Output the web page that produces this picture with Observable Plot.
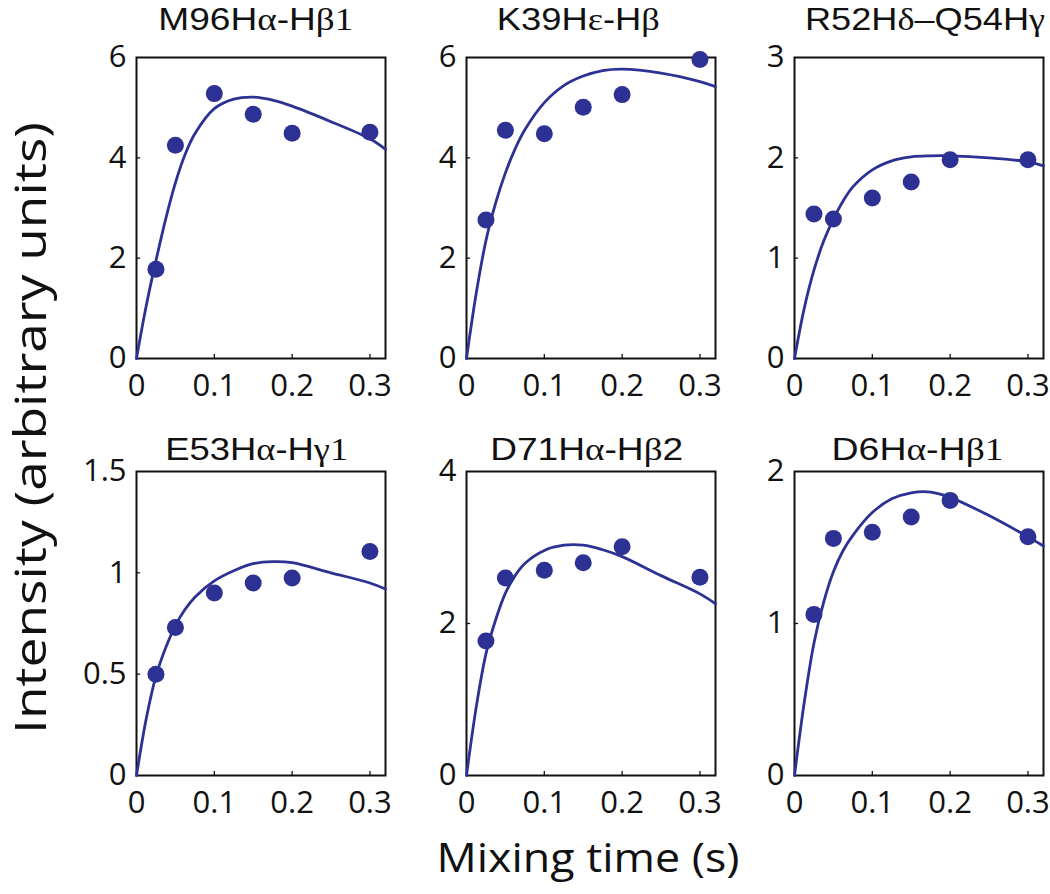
<!DOCTYPE html>
<html>
<head>
<meta charset="utf-8">
<script src="https://cdn.jsdelivr.net/npm/d3@7"></script>
<script src="https://cdn.jsdelivr.net/npm/@observablehq/plot@0.6"></script>
<style>
  html, body { margin: 0; padding: 0; background: #fff; }
  #chart { position: relative; width: 1050px; height: 894px; background: #fff; overflow: hidden; }
  #chart > .panel { position: absolute; }
  #overlay { position: absolute; left: 0; top: 0; pointer-events: none; }
</style>
</head>
<body>
<div id="chart"></div>
<script>
// ---------------- data ----------------
const xTicks = [0, 0.1, 0.2, 0.3];
const mixTimes = [0.025, 0.05, 0.1, 0.15, 0.2, 0.3];
const fitTimes = [0, 0.0125, 0.025, 0.0375, 0.05, 0.0625, 0.075, 0.1, 0.125, 0.15, 0.175, 0.2, 0.25, 0.3, 0.32];

const titleParts = [
  [["M96H", "s"], ["α", "g"], ["-H", "s"], ["β1", "g"]],
  [["K39H", "s"], ["ε", "g"], ["-H", "s"], ["β", "g"]],
  [["R52H", "s"], ["δ", "g"], ["–Q54H", "s"], ["γ", "g"]],
  [["E53H", "s"], ["α", "g"], ["-H", "s"], ["γ1", "g"]],
  [["D71H", "s"], ["α", "g"], ["-H", "s"], ["β", "g"], ["2", "s"]],
  [["D6H", "s"], ["α", "g"], ["-H", "s"], ["β1", "g"]]
];

const m96Points = [1.78, 4.25, 5.28, 4.87, 4.49, 4.51];
const k39Points = [2.76, 4.55, 4.48, 5.01, 5.26, 5.96];
const r52Points = [1.44, 1.39, 1.60, 1.76, 1.98, 1.98];
const e53Points = [0.50, 0.73, 0.90, 0.95, 0.975, 1.105];
const d71Points = [1.77, 2.60, 2.70, 2.80, 3.01, 2.61];
const d6Points  = [1.06, 1.56, 1.60, 1.70, 1.81, 1.57];

const m96Fit = [0, 1.05, 1.95, 2.78, 3.5, 4.07, 4.48, 4.98, 5.17, 5.21, 5.15, 5.03, 4.72, 4.38, 4.17];
const k39Fit = [0, 1.3, 2.35, 3.1, 3.7, 4.18, 4.56, 5.1, 5.44, 5.63, 5.74, 5.77, 5.69, 5.52, 5.42];
const r52Fit = [0, 0.5, 0.88, 1.17, 1.39, 1.57, 1.71, 1.88, 1.97, 2.01, 2.02, 2.02, 2.0, 1.96, 1.92];
const e53Fit = [0, 0.28, 0.49, 0.63, 0.74, 0.82, 0.88, 0.96, 1.01, 1.045, 1.055, 1.05, 1.0, 0.95, 0.92];
const d71Fit = [0, 0.9, 1.6, 2.05, 2.4, 2.63, 2.79, 2.96, 3.03, 3.03, 2.97, 2.88, 2.63, 2.39, 2.26];
const d6Fit  = [0, 0.48, 0.87, 1.14, 1.34, 1.48, 1.58, 1.73, 1.82, 1.86, 1.865, 1.83, 1.71, 1.57, 1.51];

const yDomains = [[0, 6], [0, 6], [0, 3], [0, 1.5], [0, 4], [0, 2]];
const yTickSets = [[0, 2, 4, 6], [0, 2, 4, 6], [0, 1, 2, 3], [0, 0.5, 1, 1.5], [0, 2, 4], [0, 1, 2]];

const yAxisTitle = "Intensity (arbitrary units)";
const xAxisTitle = "Mixing time (s)";

const pointSets = [m96Points, k39Points, r52Points, e53Points, d71Points, d6Points];
const fitSets = [m96Fit, k39Fit, r52Fit, e53Fit, d71Fit, d6Fit];

// ---------------- layout ----------------
const blue = "#2c3193";
const frameW = 249;
const mL = 70, mR = 4, mT = 6, mB = 50;
const colFrameLeft = [135.7, 465.7, 794.3];
const rowFrameTop = [57.3, 470.7];
const rowFrameH = [301, 304];
const titleBaseline = [30, 460];
const titleCenters = [255.8, 578.3, 925, 256.7, 586.7, 917.5];
const titleLengths = [195, 163, 240, 183, 193, 172];

const chart = document.getElementById("chart");

function makePanel(i) {
  const col = i % 3, row = Math.floor(i / 3);
  const fh = rowFrameH[row];
  const pts = mixTimes.map((t, k) => ({t, v: pointSets[i][k]}));
  const fit = fitTimes.map((t, k) => ({t, v: fitSets[i][k]}));
  const svg = Plot.plot({
    width: mL + frameW + mR,
    height: mT + fh + mB,
    marginLeft: mL, marginRight: mR, marginTop: mT, marginBottom: mB,
    style: {fontFamily: "'Open Sans', sans-serif", background: "transparent", overflow: "visible", color: "#111"},
    x: {domain: [0, 0.32], label: null},
    y: {domain: yDomains[i], label: null},
    marks: [
      Plot.frame({stroke: "#111", strokeWidth: 2}),
      Plot.tickX(xTicks.slice(1), {x: d => d, stroke: "#111", strokeWidth: 1.3, insetTop: fh - 4}),
      Plot.tickY(yTickSets[i].slice(1, -1), {y: d => d, stroke: "#111", strokeWidth: 1.3, insetRight: frameW - 4}),
      Plot.line(fit, {x: "t", y: "v", stroke: blue, strokeWidth: 2.8, curve: "catmull-rom"}),
      Plot.dot(pts, {x: "t", y: "v", r: 8.5, fill: blue, stroke: "none"}),
      Plot.axisX(xTicks, {tickSize: 0, tickPadding: 15, fontSize: 31, tickFormat: d => String(d), label: null}),
      Plot.axisY(yTickSets[i], {tickSize: 0, tickPadding: 10, fontSize: 31, tickFormat: d => String(d), label: null})
    ]
  });
  svg.classList.add("panel");
  svg.style.left = (colFrameLeft[col] - mL) + "px";
  svg.style.top = (rowFrameTop[row] - mT) + "px";
  chart.appendChild(svg);
}
for (let i = 0; i < 6; i++) makePanel(i);

// titles and axis titles as real text
const ns = "http://www.w3.org/2000/svg";
const ov = document.createElementNS(ns, "svg");
ov.setAttribute("id", "overlay");
ov.setAttribute("width", 1050);
ov.setAttribute("height", 894);
chart.appendChild(ov);

titleParts.forEach((parts, i) => {
  const row = Math.floor(i / 3);
  const t = document.createElementNS(ns, "text");
  t.setAttribute("x", titleCenters[i]);
  t.setAttribute("y", titleBaseline[row]);
  t.setAttribute("text-anchor", "middle");
  t.setAttribute("font-size", 31);
  t.setAttribute("fill", "#111");
  t.setAttribute("textLength", titleLengths[i]);
  t.setAttribute("lengthAdjust", "spacingAndGlyphs");
  parts.forEach(([s, f]) => {
    const sp = document.createElementNS(ns, "tspan");
    sp.setAttribute("font-family", f === "g" ? "'Liberation Serif', serif" : "'Liberation Sans', Arial, sans-serif");
    sp.textContent = s;
    t.appendChild(sp);
  });
  ov.appendChild(t);
});

const yl = document.createElementNS(ns, "text");
yl.setAttribute("transform", "translate(46,428) rotate(-90)");
yl.setAttribute("text-anchor", "middle");
yl.setAttribute("font-family", "'Open Sans', sans-serif");
yl.setAttribute("font-size", 44);
yl.setAttribute("fill", "#111");
yl.setAttribute("textLength", 612);
yl.setAttribute("lengthAdjust", "spacingAndGlyphs");
yl.textContent = yAxisTitle;
ov.appendChild(yl);

const xl = document.createElementNS(ns, "text");
xl.setAttribute("x", 588);
xl.setAttribute("y", 872);
xl.setAttribute("text-anchor", "middle");
xl.setAttribute("font-family", "'Open Sans', sans-serif");
xl.setAttribute("font-size", 41);
xl.setAttribute("fill", "#111");
xl.setAttribute("textLength", 303);
xl.setAttribute("lengthAdjust", "spacingAndGlyphs");
xl.textContent = xAxisTitle;
ov.appendChild(xl);
</script>
</body>
</html>
